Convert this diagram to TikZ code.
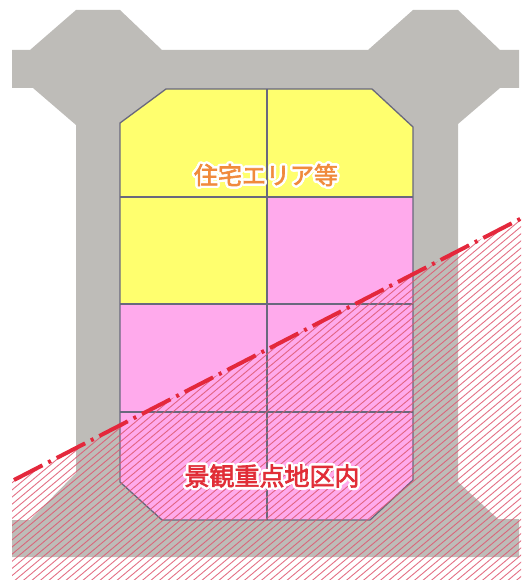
\documentclass[tikz,border=0pt]{standalone}
\usepackage{fontspec}
\usetikzlibrary{calc}
\newfontfamily\cjk[AutoFakeBold=2.5]{Noto Sans CJK JP}
\definecolor{struct}{RGB}{190,188,184}
\definecolor{cellY}{RGB}{255,255,110}
\definecolor{cellP}{RGB}{255,170,236}
\definecolor{gridc}{RGB}{105,104,125}
\definecolor{hatchc}{RGB}{222,88,112}
\definecolor{bordline}{RGB}{228,40,60}
\definecolor{txtO}{RGB}{240,138,60}
\definecolor{txtR}{RGB}{225,45,55}
\tikzset{
  hatchline/.style={draw=hatchc, line width=0.9pt, opacity=0.85},
  gridline/.style={draw=gridc, line width=1.3pt},
  zoneline/.style={draw=bordline, line width=4pt, dash pattern=on 32pt off 6.5pt on 3pt off 6.5pt},
  halo/.style={text=white, inner sep=0pt, font=\cjk\bfseries\fontsize{#1}{#1}\selectfont},
  lbl/.style={inner sep=0pt, font=\cjk\bfseries\fontsize{#1}{#1}\selectfont},
}
\begin{document}
\begin{tikzpicture}[x=1pt,y=-1pt]
\useasboundingbox (0,0) rectangle (523,580);
% gray structure
\fill[struct] (12,50) -- (30,50) -- (76,10) -- (120,10) -- (162,50) -- (368,50) -- (413,10) -- (458,10) -- (500,50) -- (519,50)
  -- (519,88) -- (500,88) -- (458,124) -- (458,482) -- (498,519) -- (519,519) -- (519,557) -- (12,557) -- (12,520) -- (30,520)
  -- (76,473) -- (76,125) -- (33,88) -- (12,88) -- cycle;
% octagon cells
\begin{scope}
\clip (166,89) -- (372,89) -- (413,127) -- (413,480) -- (370,520) -- (162,520) -- (120,482) -- (120,123) -- cycle;
\fill[cellY] (120,89) rectangle (413,197);
\fill[cellY] (120,197) rectangle (267,304);
\fill[cellP] (267,197) rectangle (413,304);
\fill[cellP] (120,304) rectangle (413,520);
\draw[gridline] (267,89) -- (267,520);
\draw[gridline] (120,197) -- (413,197);
\draw[gridline] (120,304) -- (413,304);
\draw[gridline] (120,412) -- (413,412);
\end{scope}
\draw[gridline] (166,89) -- (372,89) -- (413,127) -- (413,480) -- (370,520) -- (162,520) -- (120,482) -- (120,123) -- cycle;
% hatching below zone line
\coordinate (zl) at (14,480);
\coordinate (zr) at (521,218.5);
\begin{scope}
\clip (12,481) -- (521,218.5) -- (521,580) -- (12,580) -- cycle;
\foreach \i in {-75,...,63} {
  \draw[hatchline] (\i*8.5,600) -- ++(700,-588);
}
\end{scope}
% zone boundary
\draw[zoneline] (zl) -- (zr);
% labels with white halo
\coordinate (t1) at (266,175);
\coordinate (t2) at (272,476);
\foreach \a in {0,20,...,340} {
  \node[halo=24] (h1\a) at ($(t1)+(\a:2.4)$) {住宅エリア等};
  \node[halo=25] (h2\a) at ($(t2)+(\a:2.4)$) {景観重点地区内};
}
\node[lbl=24, text=txtO] (lab1) at (t1) {住宅エリア等};
\node[lbl=25, text=txtR] (lab2) at (t2) {景観重点地区内};
\end{tikzpicture}
\end{document}
